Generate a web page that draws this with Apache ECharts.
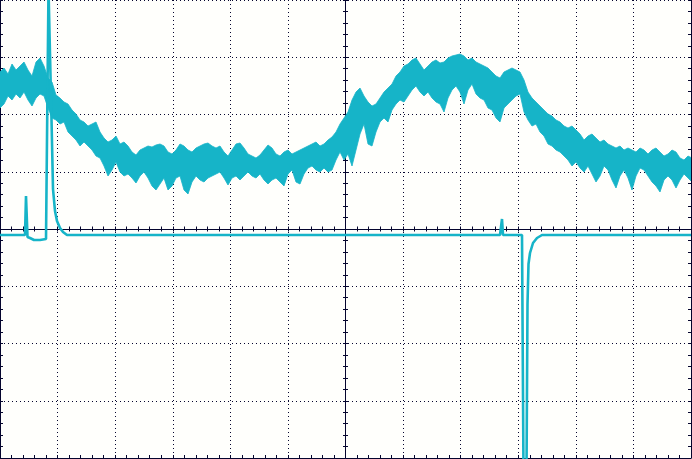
<!DOCTYPE html>
<html><head><meta charset="utf-8">
<script src="https://cdn.jsdelivr.net/npm/echarts@6/dist/echarts.min.js"></script>
<style>html,body{margin:0;padding:0;background:#fffffc;overflow:hidden}#c{width:692px;height:459px}</style>
</head><body><div id="c"></div><script>
// Channel 1 (noisy trace): sample spacing in time units, upper / lower envelope in ADC counts
const sampleStep = 4;
const ch1Upper = [157,161,155,165,159,163,167,159,153,167,171,163,151,147,134,131,127,125,119,115,
109,107,103,105,107,97,91,87,89,93,85,87,83,77,74,79,81,83,82,84,
85,83,77,75,79,85,83,79,77,81,83,85,86,83,81,83,77,73,79,85,
86,81,75,73,71,74,79,84,81,75,73,77,79,75,77,79,81,83,85,87,
83,85,89,92,97,105,111,117,129,137,141,133,127,123,125,131,137,141,145,153,
157,163,165,169,171,165,159,163,167,169,166,167,171,173,174,175,173,169,171,167,
165,163,161,157,153,151,157,159,161,159,157,149,137,131,127,123,119,115,113,109,
107,103,101,103,99,95,89,93,95,91,87,89,85,83,81,83,79,81,79,77,
81,79,75,79,81,77,73,75,79,77,71,69,73,71];
const ch1Lower = [121,125,133,129,135,131,137,129,123,131,135,133,121,111,109,105,107,97,93,89,
83,87,83,79,73,71,63,53,59,67,57,53,55,51,46,53,57,51,43,39,
45,51,39,43,51,53,39,35,47,53,49,47,51,53,55,57,51,44,51,53,
49,53,57,53,51,55,49,45,49,51,47,43,55,59,47,45,55,61,63,59,
57,61,57,59,69,77,69,75,63,79,95,105,85,83,97,107,111,107,119,125,
129,127,133,139,143,137,133,137,131,127,125,117,131,139,143,137,125,139,145,135,
131,129,121,119,111,107,121,125,129,133,135,117,109,103,105,97,93,85,83,79,
77,73,69,63,67,61,57,63,55,47,53,63,59,49,41,53,59,51,39,53,
61,59,53,47,43,37,49,53,49,41,49,55,51,47];
// Channel 2: time / value pairs (time units, ADC counts)
const ch2Time  = [0,25,26,27.5,30,34,40,46,47.5,48.5,50.5,51.5,53,55,57,60,63,67,500,501,502,503,522,523.5,526.5,527.5,528.5,530,533,537,542,691];
const ch2Value = [-6,-6,33,-8,-9,-11,-11,-10,-9,240,240,110,40,18,8,1,-3,-6,-6,-6,10,-6,-6,-245,-245,-75,-35,-24,-14,-9,-6,-6];

const TRACE = '#16b4c8';
const NAVY = '#05052e';
const xDiv = 691 / 12, yDiv = 57.25;

const chart = echarts.init(document.getElementById('c'), null, {renderer:'canvas'});
const noLabel = {show:false};
const dotted = {show:true, lineStyle:{color:NAVY, width:1, type:[1, 3]}};
function xAx(extra){ return Object.assign({type:'value', min:0, max:691, interval:xDiv, axisLabel:noLabel, splitLine:{show:false}}, extra); }
function yAx(extra){ return Object.assign({type:'value', min:-4*yDiv, max:4*yDiv, interval:yDiv, axisLabel:noLabel, splitLine:{show:false}}, extra); }
const lineS = {show:true, onZero:false, lineStyle:{color:NAVY, width:1}};
const tk = (inside, len) => ({show:true, inside:inside, length:len, lineStyle:{color:NAVY}});
const mtk = (len) => ({show:true, splitNumber:5, length:len, lineStyle:{color:NAVY}});

const option = {
  backgroundColor:'#fffffc',
  animation:false,
  grid:{left:0, top:0, right:1, bottom:1, containLabel:false},
  xAxis:[
    xAx({position:'bottom', axisLine:lineS, axisTick:tk(true,3), minorTick:mtk(3), splitLine:dotted}),
    xAx({position:'bottom', offset:-229, axisLine:lineS, axisTick:tk(false,2.5), minorTick:mtk(2.5)}),
    xAx({position:'top', offset:-229, axisLine:{show:false}, axisTick:tk(false,2.5), minorTick:mtk(2.5)})
  ],
  yAxis:[
    yAx({position:'left', axisLine:lineS, axisTick:tk(true,3), minorTick:mtk(3), splitLine:dotted}),
    yAx({position:'right', axisLine:lineS, axisTick:tk(true,3), minorTick:mtk(3)}),
    yAx({position:'left', offset:-345.5, axisLine:lineS, axisTick:tk(false,2.5), minorTick:mtk(2.5)}),
    yAx({position:'right', offset:-345.5, axisLine:{show:false}, axisTick:tk(false,2.5), minorTick:mtk(2.5)})
  ],
  series:[
    {
      type:'custom', xAxisIndex:0, yAxisIndex:0, clip:true, z:5,
      data:[[0,0]],
      renderItem:function(params, api){
        const pts = [];
        for (let i = 0; i < ch1Upper.length; i++) pts.push(api.coord([i*sampleStep, ch1Upper[i]]));
        for (let i = ch1Lower.length-1; i >= 0; i--) pts.push(api.coord([i*sampleStep, ch1Lower[i]]));
        return {type:'polygon', shape:{points:pts}, style:{fill:TRACE, stroke:TRACE, lineWidth:0.8}};
      }
    },
    {
      type:'line', xAxisIndex:0, yAxisIndex:0, clip:true, z:6,
      showSymbol:false, symbol:'none',
      data: ch2Time.map((t,i)=>[t, ch2Value[i]]),
      lineStyle:{color:TRACE, width:2.6}
    }
  ]
};
chart.setOption(option);
</script></body></html>
